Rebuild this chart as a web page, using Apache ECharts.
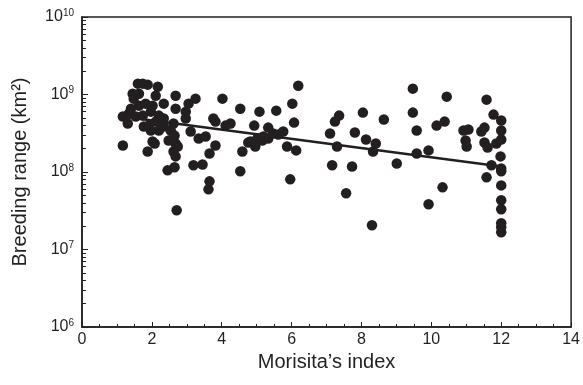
<!DOCTYPE html>
<html>
<head>
<meta charset="utf-8">
<script src="https://cdn.jsdelivr.net/npm/echarts@6/dist/echarts.min.js"></script>
<style>
  html, body { margin: 0; padding: 0; background: #fff; }
  #chart { width: 583px; height: 385px; }
</style>
</head>
<body>
<div id="chart"></div>
<script>
// Morisita's index (x) vs breeding range in km2 (y)
const morisita = [
  1.17, 1.17, 1.34, 1.31, 1.40, 1.45, 1.48, 1.54, 1.60, 1.63,
  1.63, 1.74, 1.74, 1.77, 1.82, 1.88, 1.88, 1.91, 2.02, 2.02,
  2.08, 2.11, 2.11, 2.17, 2.20, 2.20, 2.34, 2.34, 2.34, 2.48,
  2.45, 2.54, 2.62, 2.62, 2.65, 2.65, 2.68, 2.68, 2.68, 2.68,
  2.71, 2.74, 2.97, 2.97, 3.05, 3.11, 3.25, 3.34, 3.45, 3.19,
  3.54, 3.62, 3.65, 3.65, 3.76, 3.82, 3.82, 4.02, 4.11, 4.53,
  4.53, 4.59, 4.76, 1.97, 1.97, 4.25, 4.82, 4.93, 4.96, 5.02,
  5.08, 5.16, 5.19, 5.33, 5.33, 5.47, 5.56, 5.62, 5.76, 5.87,
  5.96, 6.02, 6.07, 6.13, 6.19, 7.10, 7.16, 7.24, 7.36, 7.30,
  7.56, 7.73, 7.81, 8.04, 8.13, 8.30, 8.33, 8.41, 8.64, 9.01,
  9.47, 9.47, 9.58, 9.58, 9.92, 9.92, 10.15, 10.32, 10.38, 10.44,
  10.92, 11.06, 10.98, 11.01, 11.43, 11.52, 11.52, 11.61, 11.58, 11.58,
  11.72, 11.78, 11.86, 11.98, 12, 12, 12, 12, 12, 12,
  12, 12, 12, 12, 12
];
const breedingRange = [
  5.19e8, 2.20e8, 5.66e8, 4.22e8, 6.56e8, 1.02e9, 8.84e8, 5.19e8, 1.38e9, 1.02e9,
  7.18e8, 1.38e9, 5.34e8, 3.86e8, 7.62e8, 1.34e9, 1.84e8, 3.97e8, 7.18e8, 2.47e8,
  2.33e8, 9.66e8, 4.47e8, 1.26e9, 5.34e8, 3.43e8, 7.62e8, 4.89e8, 3.86e8, 2.55e8,
  1.05e8, 3.43e8, 4.22e8, 1.84e8, 2.95e8, 1.15e8, 9.66e8, 6.56e8, 2.33e8, 1.59e8,
  3.21e7, 2.13e8, 6.01e8, 4.89e8, 7.62e8, 3.33e8, 8.84e8, 2.70e8, 1.25e8, 1.22e8,
  2.87e8, 5.97e7, 1.73e8, 7.57e7, 4.89e8, 4.47e8, 2.20e8, 8.84e8, 3.97e8, 6.56e8,
  1.02e8, 1.84e8, 2.40e8, 3.43e8, 6.01e8, 4.22e8, 2.47e8, 3.97e8, 2.13e8, 2.70e8,
  6.01e8, 2.55e8, 2.87e8, 3.74e8, 2.70e8, 3.14e8, 6.19e8, 3.04e8, 3.33e8, 2.13e8,
  8.04e7, 7.62e8, 4.34e8, 1.90e8, 1.30e9, 3.14e8, 1.22e8, 4.47e8, 5.34e8, 2.13e8,
  5.31e7, 1.18e8, 3.23e8, 5.84e8, 2.62e8, 2.06e7, 1.84e8, 2.33e8, 4.75e8, 1.29e8,
  1.19e9, 5.84e8, 3.43e8, 1.73e8, 1.90e8, 3.84e7, 3.97e8, 6.34e7, 4.47e8, 9.38e8,
  3.43e8, 3.53e8, 2.55e8, 2.13e8, 3.33e8, 3.74e8, 2.40e8, 2.07e8, 8.58e8, 8.53e7,
  1.22e8, 5.50e8, 2.33e8, 1.59e8, 4.61e8, 3.43e8, 2.62e8, 1.11e8, 1.02e8, 6.72e7,
  4.32e7, 3.31e7, 2.18e7, 1.94e7, 1.67e7
];
// fitted regression line end points
const fitX = [1.15, 12.0];
const fitY = [5.2e8, 1.18e8];

const ink = '#231f20';
const font = 'Liberation Sans';

// minor log ticks: 2..9 x each decade
const minorTicks = [];
for (let e = 6; e < 10; e++) {
  for (let m = 2; m <= 9; m++) minorTicks.push(m * Math.pow(10, e));
}

const chart = echarts.init(document.getElementById('chart'), null, { renderer: 'canvas' });

chart.setOption({
  animation: false,
  grid: {
    left: 82,
    right: 10,
    top: 17,
    bottom: 58,
    show: true,
    borderColor: ink,
    borderWidth: 1.5,
  },
  xAxis: {
    type: 'value',
    min: 0,
    max: 14,
    interval: 2,
    name: 'Morisita\u2019s index',
    nameLocation: 'middle',
    nameGap: 16,
    nameTextStyle: { fontFamily: font, fontSize: 20, color: ink },
    axisLine: { show: true, lineStyle: { color: ink, width: 1.5 } },
    axisTick: { show: true, inside: true, length: 5, lineStyle: { color: ink } },
    minorTick: { show: true, splitNumber: 4, length: 3, lineStyle: { color: ink } },
    splitLine: { show: false },
    axisLabel: { fontFamily: font, fontSize: 16, color: ink, margin: 5 },
  },
  yAxis: [
    {
      type: 'log',
      logBase: 10,
      min: 1e6,
      max: 1e10,
      name: 'Breeding range (km\u00b2)',
      nameLocation: 'middle',
      nameGap: 52,
      nameTextStyle: { fontFamily: font, fontSize: 20, color: ink },
      axisLine: { show: true, lineStyle: { color: ink, width: 1.5 } },
      axisTick: { show: true, inside: true, length: 6, lineStyle: { color: ink } },
      splitLine: { show: false },
      axisLabel: {
        margin: 8,
        formatter: function (val) {
          const e = Math.round(Math.log10(val));
          return '{b|10}{s|' + e + '}';
        },
        rich: {
          b: { fontFamily: font, fontSize: 16, color: ink, lineHeight: 18 },
          s: { fontFamily: font, fontSize: 10, color: ink, verticalAlign: 'top', lineHeight: 18, padding: [0, 0, 6, 0] },
        },
      },
    },
    {
      type: 'log',
      logBase: 10,
      min: 1e6,
      max: 1e10,
      position: 'left',
      axisLine: { show: false },
      axisLabel: { show: false },
      splitLine: { show: false },
      axisTick: {
        show: true,
        inside: true,
        length: 4,
        customValues: minorTicks,
        lineStyle: { color: ink },
      },
    },
  ],
  series: [
    {
      type: 'scatter',
      symbol: 'circle',
      symbolSize: 10.5,
      itemStyle: { color: ink, opacity: 1 },
      data: morisita.map((x, i) => [x, breedingRange[i]]),
    },
    {
      type: 'line',
      symbol: 'none',
      lineStyle: { color: ink, width: 2.5 },
      data: fitX.map((x, i) => [x, fitY[i]]),
      z: 3,
    },
  ],
});
</script>
</body>
</html>
